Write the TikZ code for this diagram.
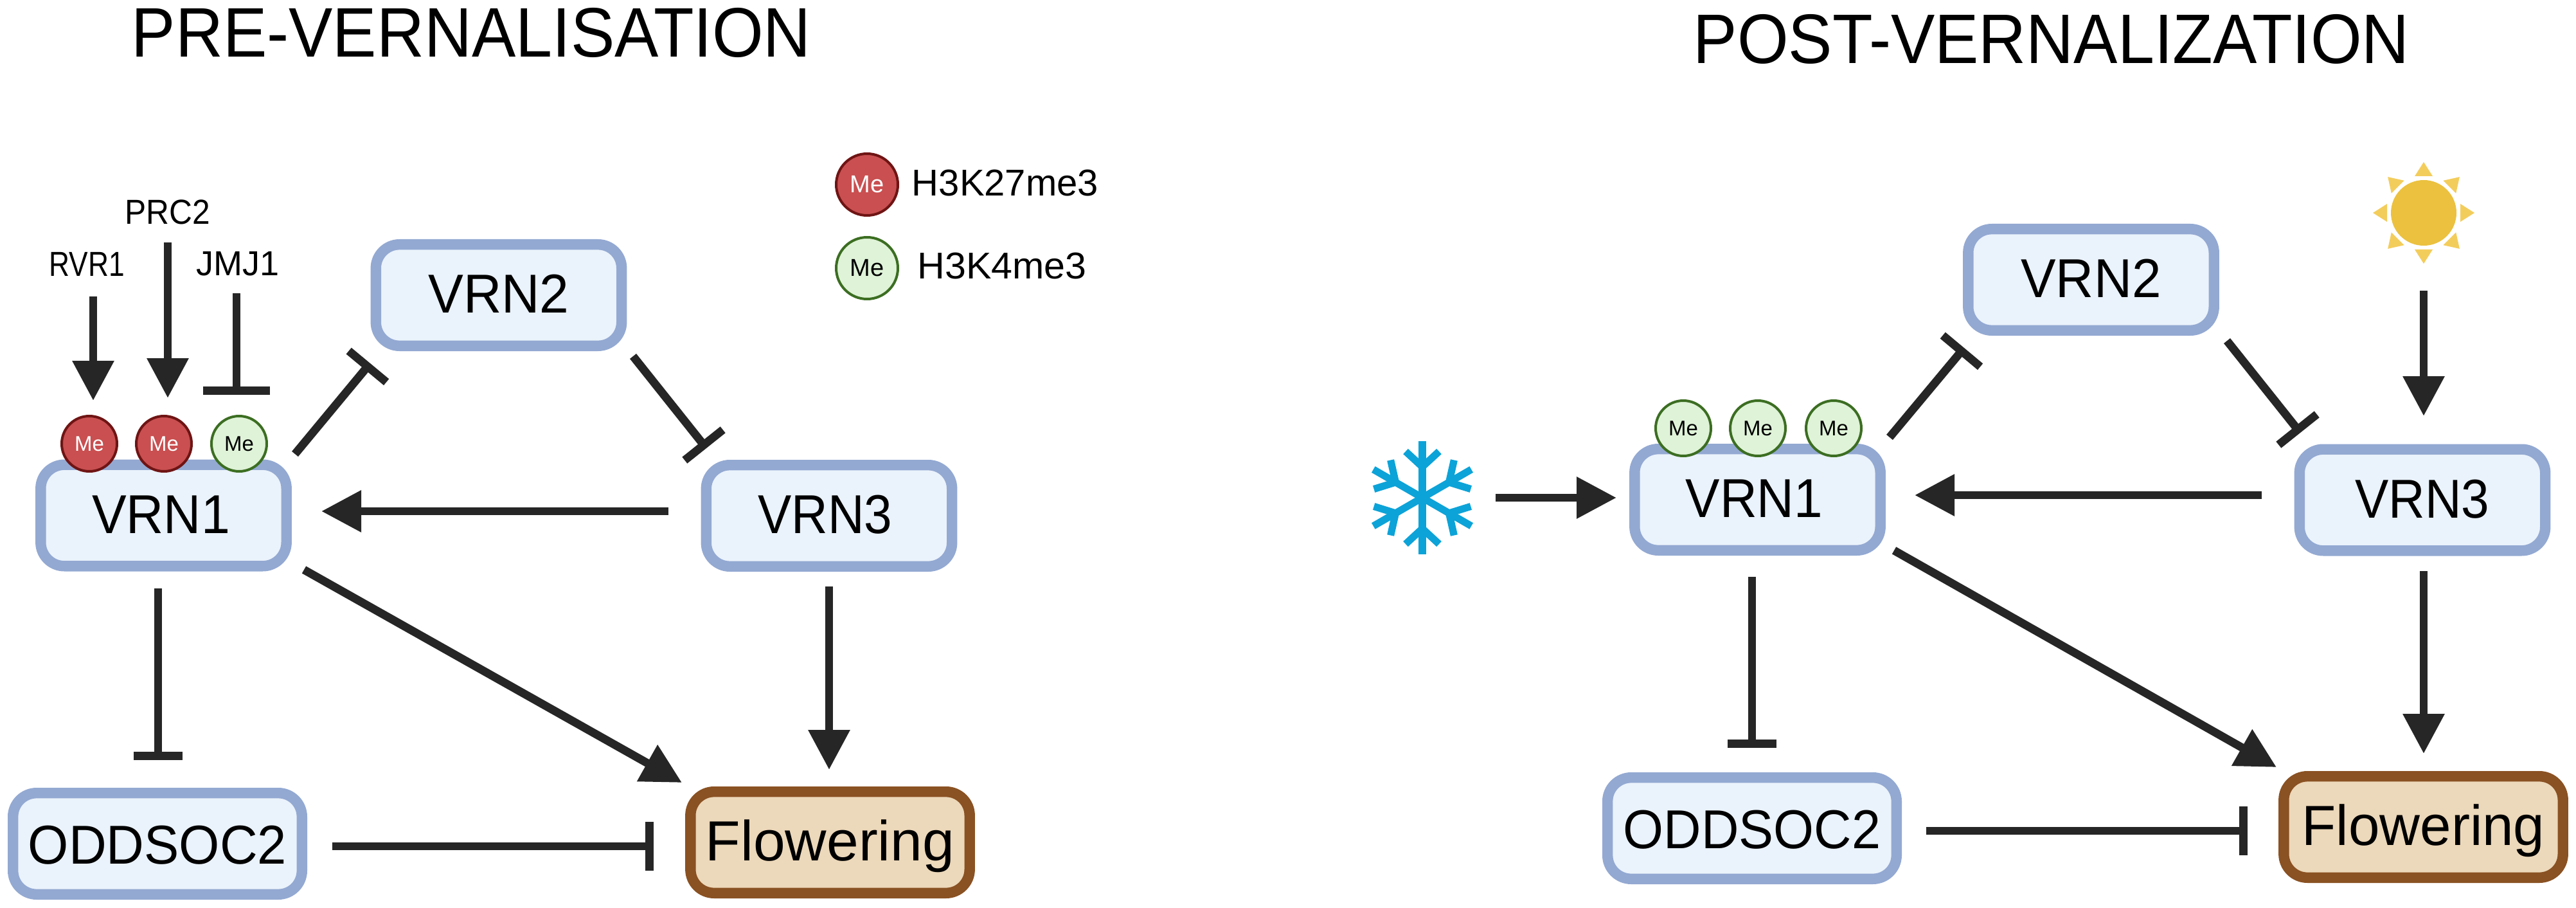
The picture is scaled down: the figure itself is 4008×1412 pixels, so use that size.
\documentclass[tikz,border=0pt]{standalone}
\usepackage{fontspec}
\usepackage{graphicx}
\setmainfont{Liberation Sans}
\usetikzlibrary{arrows.meta}
\definecolor{bluebd}{HTML}{93A9D2}
\definecolor{bluebg}{HTML}{EAF2FB}
\definecolor{brownbd}{HTML}{8A5122}
\definecolor{brownbg}{HTML}{ECD8BA}
\definecolor{linec}{HTML}{262626}
\definecolor{redf}{HTML}{C94F50}
\definecolor{redd}{HTML}{6F1414}
\definecolor{greenf}{HTML}{DFF3D8}
\definecolor{greend}{HTML}{3C6E22}
\definecolor{sunc}{HTML}{EBC13F}
\definecolor{rayc}{HTML}{F3CD5C}
\definecolor{icec}{HTML}{0CA3D8}
\newcommand{\sx}[2]{\scalebox{#1}[1]{#2}}
\tikzset{
  genebox/.style={draw=bluebd,fill=bluebg,line width=4.1pt,rounded corners=9.2pt,
    minimum height=39.4pt,inner sep=0pt,font=\fontsize{21.3}{24}\selectfont,
    text height=15.25pt,text depth=1.5pt},
  vrnbox/.style={genebox,minimum width=95.6pt},
  oddbox/.style={genebox,minimum width=112.4pt,text height=15.75pt,text depth=0pt},
  flowerbox/.style={genebox,draw=brownbd,fill=brownbg,minimum width=108.6pt,
    font=\fontsize{22}{24}\selectfont,text height=15.75pt,text depth=1.75pt},
  meth/.style={circle,line width=1pt,minimum size=21.5pt,inner sep=0pt,font=\fontsize{8.25}{10}\selectfont},
  redme/.style={meth,draw=redd,fill=redf,text=white},
  greenme/.style={meth,draw=greend,fill=greenf,text=black},
  bigme/.style={minimum size=24pt,font=\fontsize{9.5}{11}\selectfont},
  lab/.style={anchor=base,inner sep=0pt,font=\fontsize{13.5}{16}\selectfont},
  leg/.style={anchor=base,inner sep=0pt,font=\fontsize{14.5}{17}\selectfont},
  ttl/.style={anchor=base west,inner sep=0pt,font=\fontsize{27.25}{32}\selectfont},
  link/.style={draw=linec,line width=3.2pt},
  act/.style={link,-{Triangle[length=15.5pt,width=15.5pt,fill=linec]}},
  inh/.style={link,-{Bar[width=19pt,line width=3.2pt]}},
  inhwide/.style={link,-{Bar[width=26pt,line width=3.2pt]}}
}
\begin{document}
\begin{tikzpicture}[x=.25pt,y=-.25pt]
\useasboundingbox (0,0) rectangle (4008,1412);
% titles
\node[ttl] (t1) at (204,89) {\sx{.94}{PRE-VERNALISATION}};
\node[ttl] (t2) at (2634,99) {\sx{.94}{POST-VERNALIZATION}};
% LEFT boxes
\node[vrnbox] (lv1) at (254.5,801.5) {\sx{.945}{VRN1}\kern2pt};
\node[vrnbox] (lv2) at (776,459) {\sx{.965}{VRN2}};
\node[vrnbox] (lv3) at (1290,802) {\sx{.92}{VRN3}\kern3pt};
\node[oddbox] (lo) at (245,1312) {\sx{.955}{ODDSOC2}};
\node[flowerbox] (lf) at (1291.5,1310) {\sx{1.015}{Flowering}};
% left methyl marks
\node[redme] (lm1) at (139,690) {Me};
\node[redme] (lm2) at (255,690) {Me};
\node[greenme] (lm3) at (372,690) {Me};
% labels
\node[lab] (rvr) at (135,429) {\sx{.82}{RVR1}};
\node[lab] (prc) at (261,349) {\sx{.92}{PRC2}};
\node[lab] (jmj) at (370.5,428) {JMJ1};
% legend
\node[redme,bigme] (l1) at (1349,287) {Me};
\node[greenme,bigme] (l2) at (1349,417) {Me};
\node[leg] (l1t) at (1564,305) {H3K27me3};
\node[leg] (l2t) at (1559,434) {\sx{1.02}{H3K4me3}};
% left connector ends
\coordinate (a1) at (145,461); \coordinate (a2) at (145,623);
\coordinate (b1) at (261,377); \coordinate (b2) at (261,619);
\coordinate (c1) at (368,456); \coordinate (c2) at (368,614);
\coordinate (d1) at (459,706); \coordinate (d2) at (576,565);
\coordinate (e1) at (985,554); \coordinate (e2) at (1099,697);
\coordinate (f1) at (1040,795); \coordinate (f2) at (500,795);
\coordinate (g1) at (473,886); \coordinate (g2) at (1061,1217);
\coordinate (h1) at (1290,912); \coordinate (h2) at (1290,1197);
\coordinate (i1) at (246,915); \coordinate (i2) at (246,1182);
\coordinate (j1) at (517,1316); \coordinate (j2) at (1017,1316);
\draw[act] (a1) -- (a2);
\draw[act] (b1) -- (b2);
\draw[inhwide] (c1) -- (c2);
\draw[inh] (d1) -- (d2);
\draw[inh] (e1) -- (e2);
\draw[act] (f1) -- (f2);
\draw[act] (g1) -- (g2);
\draw[act] (h1) -- (h2);
\draw[inh] (i1) -- (i2);
\draw[inh] (j1) -- (j2);
% RIGHT boxes
\node[vrnbox] (rv1) at (2734.5,777) {\sx{.94}{VRN1}\kern2.5pt};
\node[vrnbox] (rv2) at (3253.5,435) {\sx{.96}{VRN2}};
\node[vrnbox] (rv3) at (3769,777.5) {\sx{.92}{VRN3}};
\node[oddbox] (ro) at (2726,1288) {\sx{.95}{ODDSOC2}};
\node[flowerbox] (rf) at (3770.5,1286) {\sx{.99}{Flowering}};
\node[greenme] (rm1) at (2619,666) {Me};
\node[greenme] (rm2) at (2735,666) {Me};
\node[greenme] (rm3) at (2853,666) {Me};
% right connector ends
\coordinate (k1) at (2327,774); \coordinate (k2) at (2515,774);
\coordinate (m1) at (2940,680); \coordinate (m2) at (3056,541);
\coordinate (n1) at (3465,530); \coordinate (n2) at (3579,673);
\coordinate (o1) at (3519,770); \coordinate (o2) at (2979,770);
\coordinate (p1) at (2947,856); \coordinate (p2) at (3542,1193);
\coordinate (q1) at (3771,452); \coordinate (q2) at (3771,647);
\coordinate (r1) at (3771,888); \coordinate (r2) at (3771,1172);
\coordinate (s1) at (2726,897); \coordinate (s2) at (2726,1163);
\coordinate (u1) at (2997,1292); \coordinate (u2) at (3497,1292);
\draw[act] (k1) -- (k2);
\draw[inh] (m1) -- (m2);
\draw[inh] (n1) -- (n2);
\draw[act] (o1) -- (o2);
\draw[act] (p1) -- (p2);
\draw[act] (q1) -- (q2);
\draw[act] (r1) -- (r2);
\draw[inh] (s1) -- (s2);
\draw[inh] (u1) -- (u2);
% snowflake
\begin{scope}[shift={(2213,774)}]
\foreach \a in {0,60,...,300}{
  \draw[icec,line width=2.8pt,rotate=\a] (0,0) -- (0,-88);
  \draw[icec,line width=2.8pt,rotate=\a] (-26,-72) -- (0,-48) -- (26,-72);
}
\end{scope}
% sun
\begin{scope}[shift={(3771,331)}]
\fill[sunc] (0,0) circle[radius=51];
\foreach \a in {0,45,...,315}{
  \fill[rayc,rotate=\a] (0,-79) -- (14,-57) -- (-14,-57) -- cycle;
}
\end{scope}
\end{tikzpicture}
\end{document}
